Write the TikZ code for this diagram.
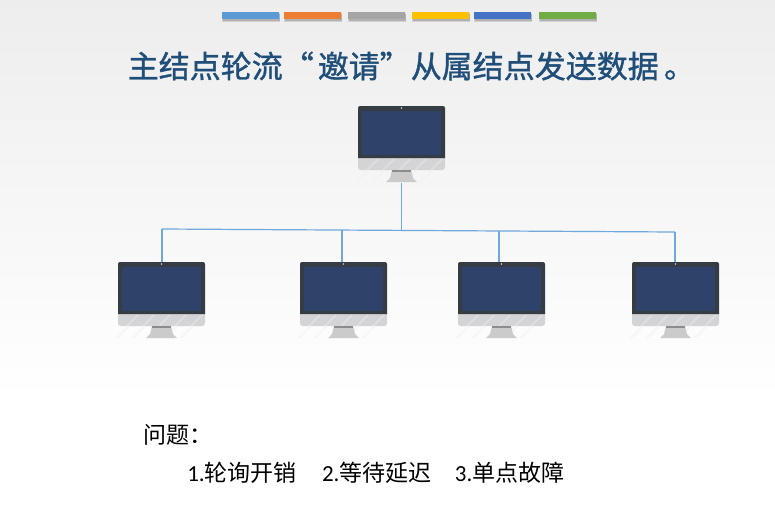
\documentclass[tikz,border=0pt]{standalone}
\usepackage{fontspec}
\usepackage{xcolor}
\setmainfont{Carlito}
\newfontfamily\cjk{Noto Sans CJK SC}
\newfontfamily\cjktitle[FakeBold=1.2]{Noto Sans CJK SC}
\usetikzlibrary{calc}
\definecolor{titleblue}{HTML}{1F4E79}
\definecolor{linkblue}{HTML}{6FA8DC}
\definecolor{bezel}{HTML}{363C44}
\definecolor{screenblue}{HTML}{2F4269}
\definecolor{chin}{HTML}{D4D4D6}
\definecolor{standgrey}{HTML}{CBCBCB}
\tikzset{
    barbox/.style={minimum width=42.75pt, minimum height=5.25pt, inner sep=0pt, outer sep=0pt, anchor=north west},
    pcbox/.style={minimum width=65.25pt, minimum height=57.75pt, inner sep=0pt, outer sep=0pt, anchor=north west},
    link/.style={draw=linkblue, line width=0.9pt},
    msgtext/.style={font=\fontsize{17.25pt}{20pt}\cjk, anchor=west, inner sep=0pt}
}
\newcommand{\latinnum}[1]{{\rmfamily #1}}
\newcommand{\drawpc}[3]{%
    \node[pcbox] (#1) at (#2,#3) {};
    \begin{scope}[shift={(#2,#3)}]
    \fill[chin, rounded corners=2pt] (0,48) -- (87,48) -- (87,64) -- (0,64) -- cycle;
    \fill[bezel, rounded corners=1.5pt] (0,0) -- (87,0) -- (87,20) [sharp corners] -- (87,52) -- (0,52) -- (0,20) [rounded corners=1.5pt] -- cycle;
    \fill[screenblue] (4,4.5) rectangle (83,49);
    \fill[white!75!bezel] (43.5,2) circle (0.6pt);
    \foreach \sx in {8,24,40,56,72} {
        \fill[white, opacity=0.3] (\sx,64) -- (\sx+2,64) -- (\sx+13,53) -- (\sx+11,53) -- cycle;
        \fill[black!5, opacity=0.6] (\sx-11,76) -- (\sx-8,76) -- (\sx+3,65) -- (\sx,65) -- cycle;
    }
    \fill[standgrey] (34,64) -- (53,64) -- (55,72) -- (59,76) -- (28,76) -- (32,72) -- cycle;
    \fill[black!45] (34,63.5) rectangle (53,65.5);
    \end{scope}
}
\begin{document}
\begin{tikzpicture}[x=0.75pt,y=-0.75pt]
\useasboundingbox (0,0) rectangle (775,515);
% Background
\shade[top color=black!7, bottom color=white] (0,0) rectangle (775,400);

% Colour bars
\foreach \n/\bx/\bcol in {a/222/5B9BD5,b/284/ED7D31,c/348/A5A5A5,d/412/FFC000,e/474/4472C4,f/539/70AD47} {
    \definecolor{barcol}{HTML}{\bcol}
    \fill[black, opacity=0.12] (\bx,13) rectangle (\bx+58,22);
    \fill[black, opacity=0.15] (\bx+1,14) rectangle (\bx+57.5,21);
    \node[barbox, fill=barcol] (bar\n) at (\bx,12) {};
}

% Title
\node[font=\fontsize{23.25pt}{28pt}\cjktitle, titleblue, inner sep=0pt, anchor=west] (title) at (127.5,66) {主结点轮流“\kern3pt 邀请”从属结点发送数据\kern4pt 。};

% Monitors
\drawpc{pcmain}{358}{106}
\drawpc{pca}{118}{262}
\drawpc{pcb}{300}{262}
\drawpc{pcc}{458}{262}
\drawpc{pcd}{632}{262}

% Links
\coordinate (busl) at (162,229);
\coordinate (busr) at (675,232);
\coordinate (busm) at (401.4,230.6);
\coordinate (busb) at (342,230.2);
\coordinate (busc) at (499,231.1);
\draw[link] (busl) -- (busr);
\draw[link] (busm) -- (busm |- pcmain.south);
\draw[link] (busl) -- (busl |- pca.north);
\draw[link] (busb) -- (busb |- pcb.north);
\draw[link] (busc) -- (busc |- pcc.north);
\draw[link] (busr) -- (busr |- pcd.north);

% Question
\node[msgtext] (ask) at (143,435) {问题：};
\node[msgtext] (answer) at (187,473) {\latinnum{1.}轮询开销\hspace{19pt}\latinnum{2.}等待延迟\hspace{17.5pt}\latinnum{3.}单点故障};
\end{tikzpicture}
\end{document}
